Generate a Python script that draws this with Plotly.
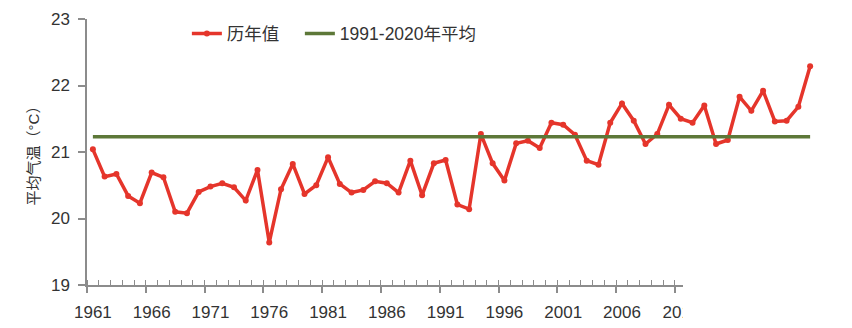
import plotly.graph_objects as go

# Annual mean temperature, 1961-2022 (°C)
years = list(range(1961, 2023))
annual_temp = [
    21.04, 20.63, 20.67, 20.34, 20.23, 20.69, 20.62, 20.10, 20.08, 20.40,
    20.48, 20.53, 20.47, 20.27, 20.73, 19.64, 20.44, 20.82, 20.37, 20.50,
    20.92, 20.52, 20.39, 20.43, 20.56, 20.53, 20.39, 20.87, 20.35, 20.83,
    20.88, 20.21, 20.14, 21.27, 20.83, 20.57, 21.13, 21.17, 21.06, 21.44,
    21.41, 21.26, 20.87, 20.81, 21.44, 21.73, 21.47, 21.12, 21.27, 21.71,
    21.50, 21.44, 21.70, 21.12, 21.18, 21.83, 21.62, 21.92, 21.46, 21.47,
    21.68, 22.29,
]
normal_1991_2020 = 21.23

label_years = list(range(1961, 2023, 5))
tick_labels = [str(y) for y in label_years]
y_ticks = [19, 20, 21, 22, 23]

series_name = "历年值"
normal_name = "1991-2020年平均"
y_title = "平均气温（°C）"

RED = "#e5352b"
GREEN = "#5d7838"
AXIS = "#8c8c8c"
TEXT = "#333333"
FONT = "Liberation Sans, Arial, Noto Sans CJK SC, sans-serif"

fig = go.Figure()

fig.add_trace(go.Scatter(
    x=years, y=annual_temp, name=series_name,
    mode="lines+markers",
    line=dict(color=RED, width=3.5),
    marker=dict(color=RED, size=6),
    legend="legend",
))
fig.add_trace(go.Scatter(
    x=[years[0], years[-1]], y=[normal_1991_2020] * 2, name=normal_name,
    mode="lines",
    line=dict(color=GREEN, width=3.5),
    legend="legend2",
))

x_lo, x_hi = years[0] - 0.5, years[-1] + 0.5

legend_style = dict(
    orientation="h", y=0.945, xanchor="left", yanchor="middle",
    font=dict(size=17.5, color=TEXT), bgcolor="rgba(0,0,0,0)",
    itemwidth=30,
)

fig.update_layout(
    width=852, height=328,
    margin=dict(l=87, r=36, t=19, b=43, autoexpand=False),
    paper_bgcolor="white", plot_bgcolor="white",
    font=dict(family=FONT, color=TEXT, size=16),
    showlegend=True,
    legend=dict(x=0.137, **legend_style),
    legend2=dict(x=0.292, **legend_style),
    # boundary ticks between years (no labels)
    xaxis=dict(
        range=[x_lo, x_hi], showgrid=False, zeroline=False, automargin=False,
        showline=True, linecolor=AXIS, linewidth=1.5,
        tickmode="array", tickvals=[y - 0.5 for y in label_years],
        ticktext=[""] * len(label_years),
        ticks="outside", ticklen=6, tickwidth=1.5, tickcolor=AXIS,
        minor=dict(ticks="inside", tickmode="linear", tick0=0.5, dtick=1,
                   ticklen=5, tickwidth=1.2, tickcolor=AXIS),
    ),
    # year labels centred on each year
    xaxis2=dict(
        range=[x_lo, x_hi], overlaying="x", side="bottom", anchor="y",
        showgrid=False, zeroline=False, showline=False, automargin=False,
        tickmode="array", tickvals=label_years, ticktext=tick_labels,
        ticks="", ticklabelstandoff=15,
        tickfont=dict(size=17, color=TEXT),
    ),
    yaxis=dict(
        range=[19, 23], showgrid=False, zeroline=False, automargin=False,
        showline=True, linecolor=AXIS, linewidth=1.5,
        tickmode="array", tickvals=y_ticks,
        ticks="outside", ticklen=7, tickwidth=1.5, tickcolor=AXIS,
        ticklabelstandoff=5,
        tickfont=dict(size=17, color=TEXT),
        title=dict(text=y_title, font=dict(size=15, color=TEXT), standoff=8),
    ),
    shapes=[
        # faded patch over the lower-right corner
        dict(type="rect", xref="paper", yref="paper",
             x0=(683 - 87) / 729, x1=1.06, y0=-0.2, y1=0.03,
             fillcolor="white", line=dict(width=0), layer="above"),
    ],
)

# invisible carrier trace for the label axis
fig.add_trace(go.Scatter(x=[years[0]], y=[None], xaxis="x2", showlegend=False,
                         hoverinfo="skip"))

fig.write_html("out.html")
